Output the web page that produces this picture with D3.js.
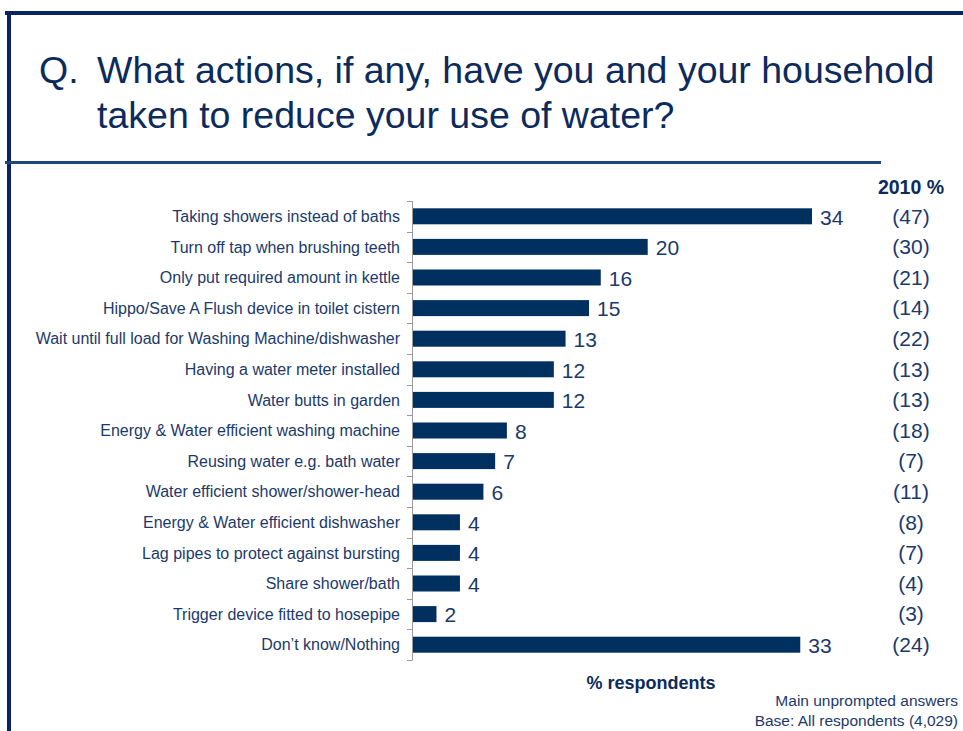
<!DOCTYPE html>
<html>
<head>
<meta charset="utf-8">
<script src="https://cdn.jsdelivr.net/npm/d3@7"></script>
<style>
  body { margin: 0; background: #fff; }
  svg { display: block; font-family: "Liberation Sans", Arial, sans-serif; }
</style>
</head>
<body>
<svg id="chart" width="963" height="731"></svg>
<script>
var categories = [
  "Taking showers instead of baths",
  "Turn off tap when brushing teeth",
  "Only put required amount in kettle",
  "Hippo/Save A Flush device in toilet cistern",
  "Wait until full load for Washing Machine/dishwasher",
  "Having a water meter installed",
  "Water butts in garden",
  "Energy & Water efficient washing machine",
  "Reusing water e.g. bath water",
  "Water efficient shower/shower-head",
  "Energy & Water efficient dishwasher",
  "Lag pipes to protect against bursting",
  "Share shower/bath",
  "Trigger device fitted to hosepipe",
  "Don\u2019t know/Nothing"
];
var values2012 = [34, 20, 16, 15, 13, 12, 12, 8, 7, 6, 4, 4, 4, 2, 33];
var values2010 = [47, 30, 21, 14, 22, 13, 13, 18, 7, 11, 8, 7, 4, 3, 24];

var navy = "#00305f";
var textCol = "#1b3a6b";
var svg = d3.select("#chart");

// frame
svg.append("rect").attr("x", 5).attr("y", 11).attr("width", 958).attr("height", 4).attr("fill", "#0a2463");
svg.append("rect").attr("x", 7).attr("y", 11).attr("width", 4).attr("height", 720).attr("fill", "#0a2463");
svg.append("rect").attr("x", 5).attr("y", 161).attr("width", 876).attr("height", 3).attr("fill", "#1f477a");

// title
var title = svg.append("g").attr("fill", "#0c2b5c").style("font-size", "37.5px");
title.append("text").attr("x", 39).attr("y", 83).text("Q.");
title.append("text").attr("x", 97).attr("y", 83).text("What actions, if any, have you and your household");
title.append("text").attr("x", 97).attr("y", 128).text("taken to reduce your use of water?");

var x = d3.scaleLinear().domain([0, 34]).range([413, 812]);
var y = d3.scaleBand().domain(categories).range([201, 660]).padding(0);
var barH = 16;

// axis line and ticks
var boundaries = categories.map(function (c) { return y(c); }).concat([660]);
svg.append("line").attr("x1", 412.5).attr("x2", 412.5).attr("y1", 201).attr("y2", 660)
  .attr("stroke", "#9a9a9a").attr("stroke-width", 1);
svg.selectAll(".tick").data(boundaries).enter().append("line")
  .attr("x1", 407).attr("x2", 412.5)
  .attr("y1", function (d) { return Math.round(d) + 0.5; })
  .attr("y2", function (d) { return Math.round(d) + 0.5; })
  .attr("stroke", "#9a9a9a");

// bars
svg.selectAll(".bar").data(values2012).enter().append("rect")
  .attr("x", x(0))
  .attr("y", function (d, i) { return y(categories[i]) + y.bandwidth() / 2 - barH / 2; })
  .attr("width", function (d) { return x(d) - x(0); })
  .attr("height", barH)
  .attr("fill", navy);

// category labels
svg.selectAll(".cat").data(categories).enter().append("text")
  .attr("x", 400)
  .attr("y", function (d) { return y(d) + y.bandwidth() / 2; })
  .attr("dy", "0.35em")
  .attr("text-anchor", "end")
  .attr("fill", textCol)
  .style("font-size", "16px")
  .text(function (d) { return d; });

// value labels
svg.selectAll(".val").data(values2012).enter().append("text")
  .attr("x", function (d) { return x(d) + 8; })
  .attr("y", function (d, i) { return y(categories[i]) + y.bandwidth() / 2 + 1; })
  .attr("dy", "0.35em")
  .attr("fill", textCol)
  .style("font-size", "21px")
  .text(function (d) { return d; });

// 2010 column
svg.append("text").attr("x", 911).attr("y", 194).attr("text-anchor", "middle")
  .attr("fill", "#0c2b5c").style("font-size", "19.5px").style("font-weight", "bold").text("2010 %");
svg.selectAll(".old").data(values2010).enter().append("text")
  .attr("x", 911)
  .attr("y", function (d, i) { return y(categories[i]) + y.bandwidth() / 2; })
  .attr("dy", "0.35em")
  .attr("text-anchor", "middle")
  .attr("fill", textCol)
  .style("font-size", "21px")
  .text(function (d) { return "(" + d + ")"; });

// axis title and notes
svg.append("text").attr("x", 651).attr("y", 689).attr("text-anchor", "middle")
  .attr("fill", "#0c2b5c").style("font-size", "18px").style("font-weight", "bold").text("% respondents");
svg.append("text").attr("x", 958).attr("y", 706).attr("text-anchor", "end")
  .attr("fill", textCol).style("font-size", "15.5px").text("Main unprompted answers");
svg.append("text").attr("x", 958).attr("y", 726).attr("text-anchor", "end")
  .attr("fill", textCol).style("font-size", "15.5px").text("Base: All respondents (4,029)");
</script>
</body>
</html>
